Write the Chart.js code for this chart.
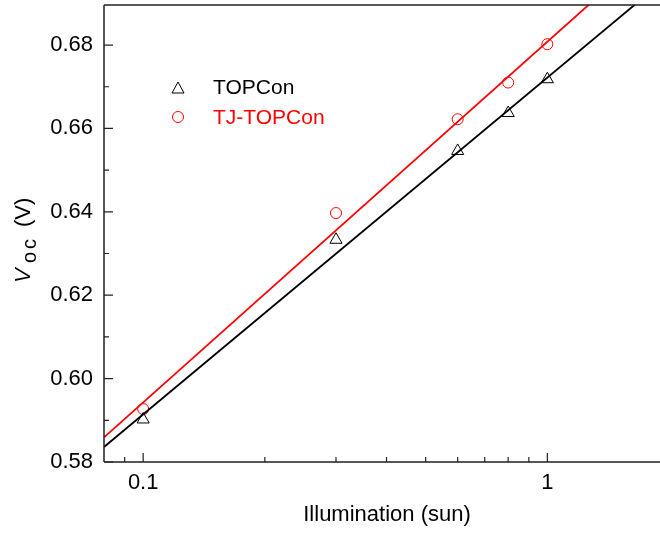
<!DOCTYPE html>
<html>
<head>
<meta charset="utf-8">
<script src="https://cdn.jsdelivr.net/npm/chart.js@4/dist/chart.umd.min.js"></script>
<style>
  body { margin: 0; background: #fff; }
  #wrap { width: 660px; height: 533px; }
</style>
</head>
<body>
<div id="wrap"><canvas id="vocChart" width="660" height="533"></canvas></div>
<script>
// illumination (sun) and Voc (V)
const illumination = [0.1, 0.3, 0.6, 0.8, 1];
const vocTOPCon = [0.5902, 0.6333, 0.6546, 0.6637, 0.6718];
const vocTJ = [0.5927, 0.6397, 0.6622, 0.6710, 0.6802];

// linear fits (end points)
const fitX = [0.08, 1.9];
const fitTOPCon = [0.5836, 0.6947];
const fitTJ = [0.5859, 0.7049];

const xTicks = [0.1, 1];
const xMinor = [0.09, 0.2, 0.3, 0.4, 0.5, 0.6, 0.7, 0.8, 0.9];
const yTicks = [0.58, 0.60, 0.62, 0.64, 0.66, 0.68];
const yMinor = [0.59, 0.61, 0.63, 0.65, 0.67];

const FONT = "'Liberation Sans', Arial, sans-serif";
Chart.defaults.font.family = FONT;
Chart.defaults.color = '#000';

const pts = (xs, ys) => xs.map((x, i) => ({ x: x, y: ys[i] }));

// pin the plot box to where it sits in the figure
const AREA = { left: 104, top: 5, right: 660, bottom: 462 };
const pinArea = {
    id: 'pinArea',
    afterLayout(chart) {
        const ca = chart.chartArea;
        Object.assign(ca, AREA);
        ca.width = AREA.right - AREA.left;
        ca.height = AREA.bottom - AREA.top;
        const x = chart.scales.x, y = chart.scales.y;
        x.left = AREA.left; x.right = AREA.right; x.width = ca.width;
        x.top = AREA.bottom; x.bottom = chart.height; x.height = chart.height - AREA.bottom;
        y.left = 0; y.right = AREA.left; y.width = AREA.left;
        y.top = AREA.top; y.bottom = AREA.bottom; y.height = ca.height;
        x.configure();
        y.configure();
    }
};

const axesPlugin = {
    id: 'axesPlugin',
    afterDatasetsDraw(chart) {
        const ctx = chart.ctx;
        const a = chart.chartArea;
        const xs = chart.scales.x, ys = chart.scales.y;
        ctx.save();
        ctx.strokeStyle = '#222';
        ctx.lineWidth = 1.5;
        ctx.beginPath();
        ctx.moveTo(a.left, a.top); ctx.lineTo(a.right, a.top);
        ctx.moveTo(a.left, a.top); ctx.lineTo(a.left, a.bottom);
        ctx.moveTo(a.left, a.bottom); ctx.lineTo(a.right, a.bottom);
        ctx.stroke();
        ctx.lineWidth = 1.2;
        ctx.beginPath();
        xTicks.forEach(v => { const p = xs.getPixelForValue(v); ctx.moveTo(p, a.bottom); ctx.lineTo(p, a.bottom - 9); });
        xMinor.forEach(v => { const p = xs.getPixelForValue(v); ctx.moveTo(p, a.bottom); ctx.lineTo(p, a.bottom - 5); });
        yTicks.forEach(v => { const p = ys.getPixelForValue(v); ctx.moveTo(a.left, p); ctx.lineTo(a.left + 9, p); });
        yMinor.forEach(v => { const p = ys.getPixelForValue(v); ctx.moveTo(a.left, p); ctx.lineTo(a.left + 5, p); });
        ctx.stroke();

        // axis titles
        ctx.fillStyle = '#000';
        ctx.font = '22px ' + FONT;
        ctx.textAlign = 'center';
        ctx.textBaseline = 'alphabetic';
        ctx.fillText('Illumination (sun)', 387, 521);

        ctx.translate(30, 283);
        ctx.rotate(-Math.PI / 2);
        ctx.textAlign = 'left';
        ctx.font = 'italic 22px ' + FONT;
        ctx.fillText('V', 0, 0);
        ctx.font = '20px ' + FONT;
        ctx.letterSpacing = '3px';
        ctx.fillText('oc', 20, 6);
        ctx.letterSpacing = '0px';
        ctx.font = '22px ' + FONT;
        ctx.fillText('(V)', 56, 0);
        ctx.restore();

        // legend
        ctx.save();
        ctx.lineWidth = 1;
        ctx.strokeStyle = '#000';
        ctx.beginPath();
        ctx.moveTo(178, 82); ctx.lineTo(184, 93); ctx.lineTo(172, 93); ctx.closePath();
        ctx.stroke();
        ctx.strokeStyle = '#ff0000';
        ctx.beginPath();
        ctx.arc(178, 117, 5.5, 0, Math.PI * 2);
        ctx.stroke();
        ctx.font = '21px ' + FONT;
        ctx.textBaseline = 'middle';
        ctx.fillStyle = '#000';
        ctx.fillText('TOPCon', 213, 88);
        ctx.fillStyle = '#ff0000';
        ctx.fillText('TJ-TOPCon', 213, 118);
        ctx.restore();
    }
};

new Chart(document.getElementById('vocChart'), {
    type: 'scatter',
    data: {
        datasets: [
            {
                label: 'TOPCon fit', data: pts(fitX, fitTOPCon), showLine: true,
                borderColor: '#000', borderWidth: 1.8, pointRadius: 0, clip: 0
            },
            {
                label: 'TJ-TOPCon fit', data: pts(fitX, fitTJ), showLine: true,
                borderColor: '#ff0000', borderWidth: 1.8, pointRadius: 0, clip: 0
            },
            {
                label: 'TOPCon', data: pts(illumination, vocTOPCon),
                pointStyle: 'triangle', pointRadius: 7, borderColor: '#000', borderWidth: 1,
                backgroundColor: 'rgba(0,0,0,0)'
            },
            {
                label: 'TJ-TOPCon', data: pts(illumination, vocTJ),
                pointStyle: 'circle', pointRadius: 5.5, borderColor: '#ff0000', borderWidth: 1,
                backgroundColor: 'rgba(0,0,0,0)'
            }
        ]
    },
    options: {
        responsive: false,
        devicePixelRatio: 1,
        animation: false,
        plugins: { legend: { display: false }, tooltip: { enabled: false } },
        scales: {
            x: {
                type: 'logarithmic', min: 0.08, max: 1.9,
                grid: { display: false, drawTicks: false },
                border: { display: false },
                afterBuildTicks: s => { s.ticks = xTicks.map(v => ({ value: v })); },
                ticks: { font: { size: 22 }, padding: 8, maxRotation: 0, callback: v => String(v) }
            },
            y: {
                min: 0.58, max: 0.6896,
                grid: { display: false, drawTicks: false },
                border: { display: false },
                afterBuildTicks: s => { s.ticks = yTicks.map(v => ({ value: v })); },
                ticks: { font: { size: 22 }, padding: 11, callback: v => v.toFixed(2) }
            }
        }
    },
    plugins: [pinArea, axesPlugin]
});
</script>
</body>
</html>
